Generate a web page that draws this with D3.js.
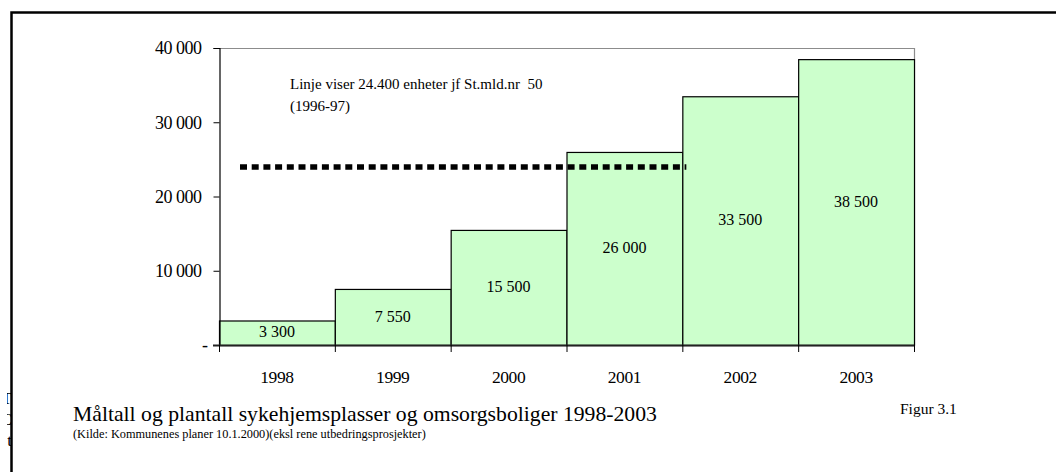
<!DOCTYPE html>
<html>
<head>
<meta charset="utf-8">
<script src="https://cdn.jsdelivr.net/npm/d3@7"></script>
<style>
  html, body { margin: 0; padding: 0; background: #fff; }
  svg { display: block; }
  text { font-family: "Liberation Serif", "Times New Roman", serif; fill: #000; white-space: pre; }
</style>
</head>
<body>
<svg id="chart" width="1056" height="472"></svg>
<script>
// ---- data ----
const years = ["1998", "1999", "2000", "2001", "2002", "2003"];
const values = [3300, 7550, 15500, 26000, 33500, 38500];
const yTicks = [0, 10000, 20000, 30000, 40000];
const refLineValue = 24100;            // dotted target line (24.400 units)
const refLineYears = ["1998", "2001"];
const annotationLines = ["Linje viser 24.400 enheter jf St.mld.nr  50", "(1996-97)"];
const title = "Måltall og plantall sykehjemsplasser og omsorgsboliger 1998-2003";
const subtitle = "(Kilde: Kommunenes planer 10.1.2000)(eksl rene utbedringsprosjekter)";
const figLabel = "Figur 3.1";
const marginFragments = ["T", "C", "t"];

// ---- layout ----
const svg = d3.select("#chart");
const plot = { left: 219, right: 914, top: 48, bottom: 345 };

const x = d3.scaleBand().domain(years).range([plot.left, plot.right]).padding(0);
const y = d3.scaleLinear().domain([0, 40000]).range([plot.bottom, plot.top]);

const loc = d3.formatLocale({ decimal: ",", thousands: "\u00a0", grouping: [3], currency: ["", ""] });
const fmt = loc.format(",d");

// clipped fragments of text at the far left margin (only slivers visible)
svg.append("defs").append("clipPath").attr("id", "leftclip")
  .append("rect").attr("x", 7).attr("y", 380).attr("width", 5).attr("height", 92);
svg.append("g").attr("clip-path", "url(#leftclip)")
  .selectAll("text").data(marginFragments).join("text")
  .attr("x", 12).attr("y", (d, i) => 404 + i * 21)
  .attr("text-anchor", "end").attr("font-size", 17)
  .text(d => d);

// outer frame
svg.append("path")
  .attr("d", `M11.5,472 L11.5,12.5 L1056,12.5`)
  .attr("fill", "none").attr("stroke", "#000").attr("stroke-width", 2.5);

// plot area border (top/right grey)
svg.append("path")
  .attr("d", `M${plot.left},${plot.top + 0.5} L${plot.right + 0.5},${plot.top + 0.5} L${plot.right + 0.5},${plot.bottom}`)
  .attr("fill", "none").attr("stroke", "#8c8c8c").attr("stroke-width", 1.2);

// bars
svg.append("g").selectAll("rect")
  .data(values)
  .join("rect")
  .attr("x", (d, i) => x(years[i]) + 0.5)
  .attr("y", d => y(d) + 0.5)
  .attr("width", x.bandwidth())
  .attr("height", d => plot.bottom - y(d))
  .attr("fill", "#ccffcc")
  .attr("stroke", "#000")
  .attr("stroke-width", 1.2);

// bar value labels
svg.append("g").selectAll("text")
  .data(values)
  .join("text")
  .attr("x", (d, i) => x(years[i]) + x.bandwidth() / 2)
  .attr("y", d => (y(d) + plot.bottom) / 2 + 1)
  .attr("text-anchor", "middle")
  .attr("dominant-baseline", "middle")
  .attr("font-size", 16)
  .text(d => fmt(d));

// y axis
const yAxis = d3.axisLeft(y).tickValues(yTicks).tickSize(6).tickPadding(12)
  .tickFormat(d => d === 0 ? "-" : fmt(d));
const gy = svg.append("g").attr("transform", `translate(${plot.left + 0.5},0)`).call(yAxis);
gy.select(".domain").attr("stroke", "#000").attr("stroke-width", 1.2);
gy.selectAll(".tick line").attr("stroke", "#000");
gy.selectAll(".tick text")
  .attr("font-family", "Liberation Serif, serif")
  .attr("font-size", 18).attr("fill", "#000")
  .attr("dx", d => d === 0 ? 6 : 0)
  .attr("letter-spacing", -0.5);

// x axis
const xEdges = years.map(yv => x(yv)).concat([plot.right]);
const gx = svg.append("g");
gx.append("line")
  .attr("x1", plot.left - 6).attr("x2", plot.right)
  .attr("y1", plot.bottom + 0.5).attr("y2", plot.bottom + 0.5)
  .attr("stroke", "#222").attr("stroke-width", 2.2);
gx.selectAll("line.tick").data(xEdges).join("line")
  .attr("class", "tick")
  .attr("x1", d => d + 0.5).attr("x2", d => d + 0.5)
  .attr("y1", plot.bottom).attr("y2", plot.bottom + 7)
  .attr("stroke", "#000").attr("stroke-width", 1);
gx.selectAll("text").data(years).join("text")
  .attr("x", d => x(d) + x.bandwidth() / 2)
  .attr("y", plot.bottom + 38)
  .attr("text-anchor", "middle")
  .attr("font-size", 17.5)
  .attr("letter-spacing", -0.4)
  .text(d => d);

// dotted reference line
const lx1 = x(refLineYears[0]) + 21;
const lx2 = x(refLineYears[1]) + x.bandwidth() + 4;
svg.append("line")
  .attr("x1", lx1).attr("x2", lx2)
  .attr("y1", y(refLineValue) + 1).attr("y2", y(refLineValue) + 1)
  .attr("stroke", "#000").attr("stroke-width", 5.5)
  .attr("stroke-dasharray", "7 4.7");

// annotation
const ann = svg.append("text").attr("x", 290).attr("y", 89).attr("font-size", 15);
annotationLines.forEach((t, i) => {
  ann.append("tspan").attr("x", 290).attr("dy", i === 0 ? 0 : 22).text(t);
});

// titles
svg.append("text").attr("x", 73).attr("y", 421).attr("font-size", 21.7).text(title);
svg.append("text").attr("x", 73).attr("y", 438).attr("font-size", 12.3).text(subtitle);
svg.append("text").attr("x", 900).attr("y", 414).attr("font-size", 15.5).text(figLabel);
</script>
</body>
</html>
